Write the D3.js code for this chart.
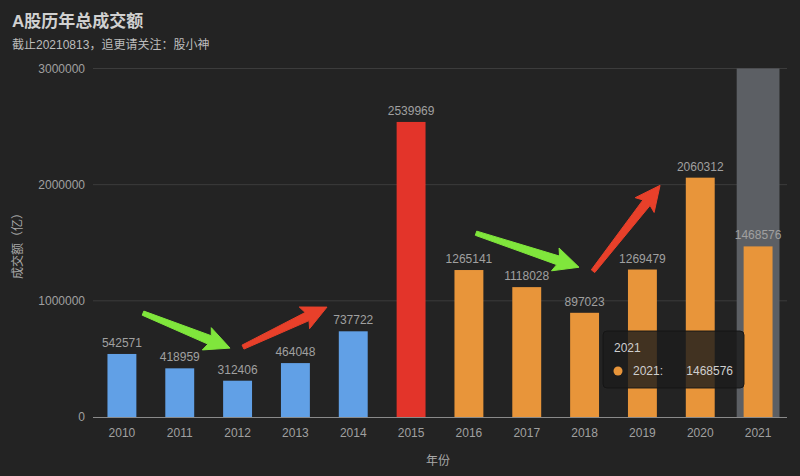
<!DOCTYPE html>
<html>
<head>
<meta charset="utf-8">
<script src="https://cdn.jsdelivr.net/npm/d3@7/dist/d3.min.js"></script>
<style>
html,body{margin:0;padding:0;background:#232323;}
svg{display:block;}
text{font-family:Helvetica,Arial,"Liberation Sans","Noto Sans CJK SC",sans-serif;}
</style>
</head>
<body>
<svg id="chart" width="800" height="476"></svg>
<script>
const years = ["2010","2011","2012","2013","2014","2015","2016","2017","2018","2019","2020","2021"];
const values = [542571,418959,312406,464048,737722,2539969,1265141,1118028,897023,1269479,2060312,1468576];
const barColors = ["#61a0e6","#61a0e6","#61a0e6","#61a0e6","#61a0e6","#e3342a","#e8953a","#e8953a","#e8953a","#e8953a","#e8953a","#e8953a"];
const yTicks = [0,1000000,2000000,3000000];
// annotation arrows: [tailIndex, tailValue, tipIndex, tipValue, color]
const arrows = [
  [0.365, 894000, 1.869, 593000, "#80e63c"],
  [2.094, 602000, 3.546, 946000, "#e8402a"],
  [6.123, 1582000, 7.904, 1289000, "#80e63c"],
  [8.146, 1255000, 9.305, 1994000, "#e8402a"]
];
const highlightYear = "2021";

const svg = d3.select("#chart");
const W = 800, H = 476;
const m = {left:93, right:13, top:68.5, bottom:59};
const x = d3.scaleBand().domain(years).range([m.left, W - m.right]).paddingInner(0).paddingOuter(0);
const y = d3.scaleLinear().domain([0,3000000]).range([H - m.bottom, m.top]);
const xi = d3.scaleLinear().domain([-0.5, years.length - 0.5]).range([m.left, W - m.right]);

// title
svg.append("text").attr("x",12).attr("y",27).attr("fill","#d0d0d0").attr("font-size",17).attr("font-weight","bold").text("A股历年总成交额");
svg.append("text").attr("x",12).attr("y",49).attr("fill","#bdbdbd").attr("font-size",12).text("截止20210813，追更请关注：股小神");

// grid lines
svg.append("g").selectAll("line").data(yTicks.slice(1)).join("line")
  .attr("x1",m.left).attr("x2",W-m.right)
  .attr("y1",d=>y(d)).attr("y2",d=>y(d))
  .attr("stroke","#3c3c3c").attr("stroke-width",1);

// highlight shadow
svg.append("rect")
  .attr("x", x(highlightYear) + x.bandwidth()*0.13)
  .attr("width", x.bandwidth()*0.74)
  .attr("y", y(3000000)).attr("height", y(0)-y(3000000))
  .attr("fill","#5c5f64");

// y axis labels
svg.append("g").selectAll("text").data(yTicks).join("text")
  .attr("x",85).attr("y",d=>y(d)+4).attr("text-anchor","end")
  .attr("fill","#a0a0a0").attr("font-size",12).text(d=>d);

// bars
const bw = x.bandwidth()*0.5;
svg.append("g").selectAll("rect").data(values).join("rect")
  .attr("x",(d,i)=>x(years[i]) + (x.bandwidth()-bw)/2)
  .attr("width",bw)
  .attr("y",d=>y(d)).attr("height",d=>y(0)-y(d))
  .attr("fill",(d,i)=>barColors[i]);

// value labels
svg.append("g").selectAll("text").data(values).join("text")
  .attr("x",(d,i)=>x(years[i]) + x.bandwidth()/2)
  .attr("y",d=>y(d)-7).attr("text-anchor","middle")
  .attr("fill","#a0a0a0").attr("font-size",12).text(d=>d);

// x axis line
svg.append("line").attr("x1",m.left).attr("x2",W-m.right)
  .attr("y1",y(0)+0.5).attr("y2",y(0)+0.5).attr("stroke","#8a8a8a").attr("stroke-width",1);

// x labels
svg.append("g").selectAll("text").data(years).join("text")
  .attr("x",d=>x(d)+x.bandwidth()/2).attr("y",y(0)+20).attr("text-anchor","middle")
  .attr("fill","#a0a0a0").attr("font-size",12).text(d=>d);

// axis titles
svg.append("text").attr("x",438).attr("y",465).attr("text-anchor","middle")
  .attr("fill","#a8a8a8").attr("font-size",12).text("年份");
svg.append("text").attr("transform","translate(22,243) rotate(-90)").attr("text-anchor","middle")
  .attr("fill","#a8a8a8").attr("font-size",12).text("成交额（亿）");

// arrows
function arrowPath(x1,y1,x2,y2){
  const dx=x2-x1, dy=y2-y1, L=Math.hypot(dx,dy);
  const ux=dx/L, uy=dy/L, nx=-uy, ny=ux;
  const headL=22, headW=12, neckW=4.5, tailW=2.2;
  const bx=x2-ux*headL, by=y2-uy*headL;
  const pts=[
    [x1+nx*tailW, y1+ny*tailW],
    [bx+nx*neckW, by+ny*neckW],
    [bx+nx*headW - ux*3, by+ny*headW - uy*3],
    [x2,y2],
    [bx-nx*headW - ux*3, by-ny*headW - uy*3],
    [bx-nx*neckW, by-ny*neckW],
    [x1-nx*tailW, y1-ny*tailW]
  ];
  return "M"+pts.map(p=>p.join(",")).join("L")+"Z";
}
svg.append("g").selectAll("path").data(arrows).join("path")
  .attr("d",a=>arrowPath(xi(a[0]),y(a[1]),xi(a[2]),y(a[3])))
  .attr("fill",a=>a[4]).attr("stroke",a=>a[4]).attr("stroke-width",1).attr("stroke-linejoin","round");

// tooltip
const hi = years.indexOf(highlightYear);
const tip = svg.append("g").attr("transform","translate(603,331)");
tip.append("rect").attr("width",141).attr("height",57).attr("rx",4)
  .attr("fill","rgba(28,28,28,0.82)").attr("stroke","rgba(20,20,20,0.9)");
tip.append("text").attr("x",11).attr("y",21).attr("fill","#cfcfcf").attr("font-size",12).text(highlightYear);
tip.append("circle").attr("cx",15).attr("cy",40).attr("r",4.5).attr("fill","#e8953a");
tip.append("text").attr("x",30).attr("y",44).attr("fill","#cfcfcf").attr("font-size",12).text(highlightYear+":");
tip.append("text").attr("x",130).attr("y",44).attr("text-anchor","end").attr("fill","#cfcfcf").attr("font-size",12).text(values[hi]);
</script>
</body>
</html>
